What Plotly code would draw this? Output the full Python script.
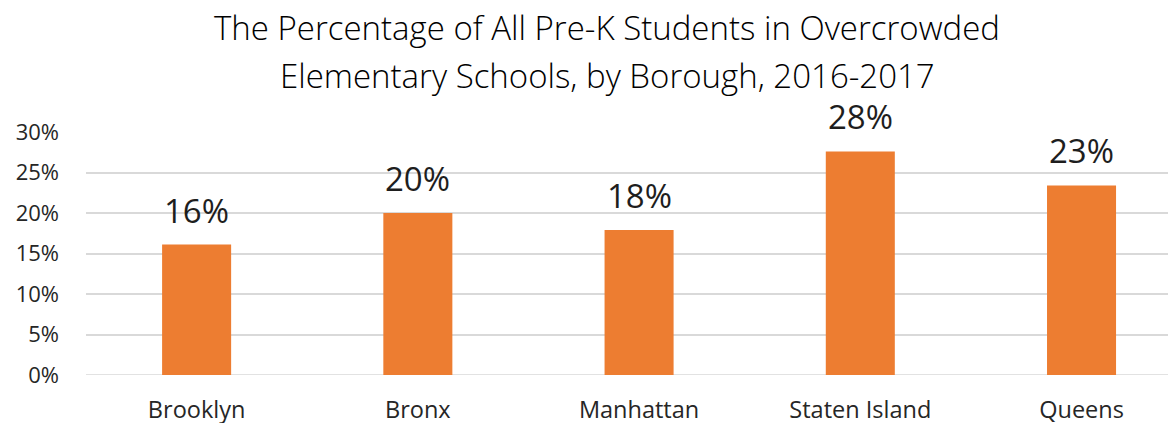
import plotly.graph_objects as go

categories = ["Brooklyn", "Bronx", "Manhattan", "Staten Island", "Queens"]
values = [0.161, 0.200, 0.179, 0.276, 0.234]
labels = ["16%", "20%", "18%", "28%", "23%"]
tick_vals = [0, 0.05, 0.10, 0.15, 0.20, 0.25, 0.30]
tick_text = ["0%", "5%", "10%", "15%", "20%", "25%", "30%"]
title_lines = ["The Percentage of All Pre-K Students in Overcrowded",
               "Elementary Schools, by Borough, 2016-2017"]

W, H = 1176, 423
ML, MR, MT, MB = 78, 8, 124, 56
plot_h = H - MT - MB

fig = go.Figure()
fig.add_trace(go.Bar(
    x=categories, y=values, width=0.312,
    marker=dict(color="#ED7D31", line=dict(width=0)),
    hoverinfo="skip",
))

for c, v, t in zip(categories, values, labels):
    fig.add_annotation(x=c, y=v, text=t, showarrow=False, yanchor="bottom",
                       yshift=10, font=dict(family="Open Sans", size=33, color="#1E1E1E"))

# title lines (figure-pixel centre heights converted to paper coords)
for line, cy in zip(title_lines, [19, 67]):
    fig.add_annotation(text=line, showarrow=False, xref="paper", yref="paper",
                       x=(607 - 8 - ML) / (W - ML - MR), xanchor="center",
                       y=(H - MB - cy) / plot_h, yanchor="middle",
                       font=dict(family="Open Sans", size=33, color="#000000", weight=300))

fig.update_layout(
    width=W, height=H,
    margin=dict(l=ML, r=MR, t=MT, b=MB, autoexpand=False),
    paper_bgcolor="white", plot_bgcolor="white",
    showlegend=False,
    xaxis=dict(
        range=[-0.5, 4.427], showgrid=False, zeroline=False, showline=False,
        ticks="", automargin=False, ticklabelstandoff=18,
        tickfont=dict(family="Open Sans", size=23.5, color="#262626"),
    ),
    yaxis=dict(
        range=[0, 0.30], tickvals=tick_vals, ticktext=tick_text,
        showgrid=True, gridcolor="#D9D9D9", gridwidth=1.5,
        zeroline=False, showline=False, ticks="", automargin=False,
        ticklabelstandoff=26,
        tickfont=dict(family="Open Sans", size=22, color="#262626"),
    ),
)
fig.add_shape(type="line", xref="paper", yref="y", x0=0, x1=1, y0=0, y1=0,
              line=dict(color="#D9D9D9", width=1.5), layer="below")

fig.write_html("out.html")
